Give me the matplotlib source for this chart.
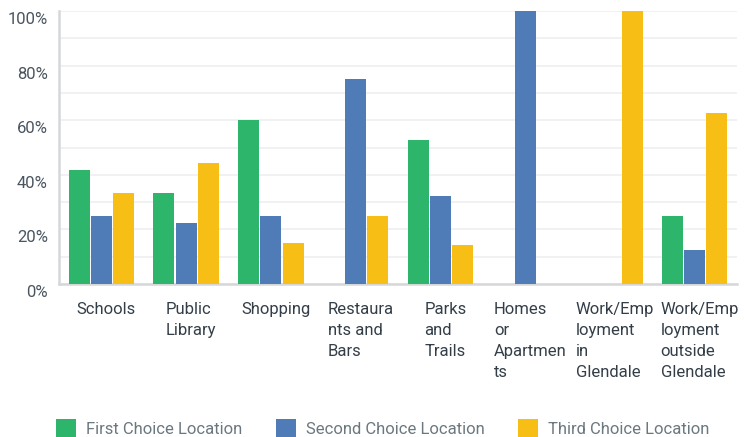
import numpy as np
import matplotlib
matplotlib.use("Agg")
import matplotlib.pyplot as plt
import matplotlib.transforms as mtransforms
from matplotlib.patches import Patch

categories = ["Schools", "Public\nLibrary", "Shopping", "Restaura\nnts and\nBars",
              "Parks\nand\nTrails", "Homes\nor\nApartmen\nts",
              "Work/Emp\nloyment\nin\nGlendale", "Work/Emp\nloyment\noutside\nGlendale"]
first_choice = [41.7, 33.3, 60.0, 0, 52.7, 0, 0, 25.0]
second_choice = [25.0, 22.2, 25.0, 75.0, 32.2, 100.0, 0, 12.5]
third_choice = [33.3, 44.4, 15.0, 25.0, 14.3, 0, 100.0, 62.5]
series_names = ["First Choice Location", "Second Choice Location", "Third Choice Location"]
colors = ["#2cb56b", "#4f7bb7", "#f7be16"]

plt.rcParams['font.family'] = ['Roboto', 'DejaVu Sans']

fig = plt.figure(figsize=(7.44, 4.37), dpi=100)
ax = fig.add_axes([59 / 744, 1 - 284 / 437, 678 / 744, 273 / 437])

x = np.arange(len(categories))
w = 0.248
for k, vals in enumerate([first_choice, second_choice, third_choice]):
    ax.bar(x + (k - 1) * 0.262, vals, width=w, color=colors[k], zorder=3)

ax.set_xlim(-0.5, len(categories) - 0.5)
ax.set_ylim(0, 100)
ax.set_yticks(range(0, 101, 20))
ax.set_yticks(range(0, 101, 10), minor=True)
ax.set_yticklabels([f"{v}%" for v in range(0, 101, 20)], fontsize=12, color="#4a5560")
ax.grid(axis="y", which="both", color="#eef0f1", linewidth=1.3, zorder=0)
ax.tick_params(axis="y", which="both", length=0, pad=8)
ax.tick_params(axis="x", length=0)
ax.set_xticks([])

# labels sit a little below their gridlines
offset = mtransforms.ScaledTranslation(0, -7 / 100, fig.dpi_scale_trans)
for lab in ax.get_yticklabels():
    lab.set_transform(lab.get_transform() + offset)

for s in ["top", "right"]:
    ax.spines[s].set_visible(False)
ax.spines["left"].set_color("#d5d7d9")
ax.spines["left"].set_linewidth(1.8)
ax.spines["bottom"].set_color("#d5d7d9")
ax.spines["bottom"].set_linewidth(1.8)

trans = mtransforms.blended_transform_factory(ax.transData, fig.transFigure)
for i, lab in enumerate(categories):
    ax.text(i + 0.06, 1 - 302 / 437, lab, transform=trans, ha="center", va="top",
            multialignment="left", fontsize=12, color="#333e48", linespacing=1.5)

handles = [Patch(facecolor=c, edgecolor="none") for c in colors]
fig.legend(handles, series_names, loc="center", bbox_to_anchor=(0.5 + 11 / 744, 1 - 428 / 437),
           ncol=3, frameon=False, fontsize=12, handlelength=1.2, handleheight=1.3,
           columnspacing=2.0, handletextpad=0.6, labelcolor="#6b787f")

fig.savefig("out.png", dpi=100)
